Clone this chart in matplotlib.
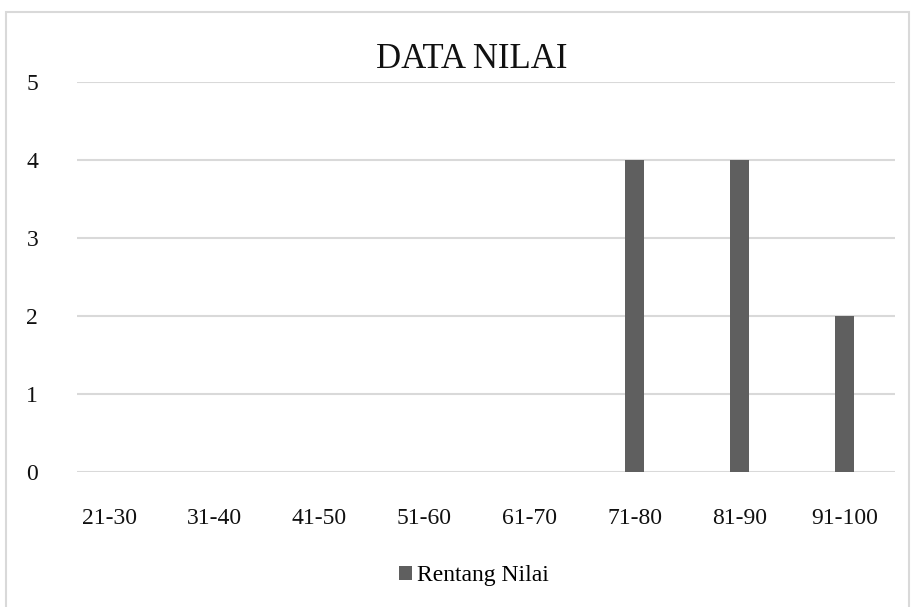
import matplotlib
matplotlib.use("Agg")
import matplotlib.pyplot as plt
from matplotlib.patches import Rectangle

# score ranges and how many students fall into each
ranges = ["21-30", "31-40", "41-50", "51-60", "61-70", "71-80", "81-90", "91-100"]
counts = [0, 0, 0, 0, 0, 4, 4, 2]
y_ticks = [0, 1, 2, 3, 4, 5]

BAR_COLOR = "#5f5f5f"
GRID_COLOR = "#d9d9d9"

plt.rcParams["font.family"] = ["Liberation Serif", "DejaVu Serif"]


def main():
    fig = plt.figure(figsize=(9.15, 6.07), dpi=100)
    ax = fig.add_axes([0.0842, 0.2232, 0.978 - 0.0842, 0.8657 - 0.2232])

    # thin columns, one per score range
    positions = list(range(len(ranges)))
    ax.bar(positions, counts, width=0.18, color=BAR_COLOR, label="Rentang Nilai", zorder=3)

    ax.set_xlim(-0.31, 7.48)
    ax.set_ylim(0, 5)
    ax.set_xticks(positions)
    ax.set_xticklabels(ranges)
    ax.set_yticks(y_ticks)

    # horizontal gridlines only, no frame
    ax.grid(axis="y", color=GRID_COLOR, linewidth=1.5, zorder=0)
    ax.set_axisbelow(True)
    for side in ax.spines.values():
        side.set_visible(False)
    ax.tick_params(axis="both", length=0, labelsize=17, colors="#111111")
    ax.tick_params(axis="y", pad=28)
    ax.tick_params(axis="x", pad=26)

    fig.suptitle("DATA NILAI", x=0.516, y=1 - 60 / 607, fontsize=25,
                 color="#111111", va="center")

    fig.legend(
        loc="center",
        bbox_to_anchor=(474 / 915, 1 - 576 / 607),
        frameon=False,
        fontsize=17,
        handlelength=0.55,
        handleheight=0.55,
        handletextpad=0.2,
    )

    # light border around the whole chart
    fig.patches.append(
        Rectangle((6 / 915, -0.1), 903 / 915, 1.1 - 12 / 607,
                  transform=fig.transFigure, fill=False,
                  edgecolor=GRID_COLOR, linewidth=1.5)
    )

    fig.savefig("out.png", dpi=100, facecolor="white")
    plt.close(fig)


if __name__ == "__main__":
    main()
